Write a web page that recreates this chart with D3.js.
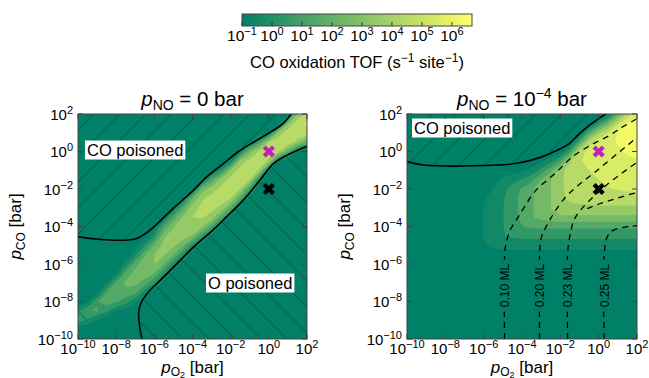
<!DOCTYPE html>
<html><head><meta charset="utf-8">
<script src="https://cdn.jsdelivr.net/npm/d3@7"></script>
<style>
body{margin:0;background:#fff}
svg{display:block}
text{font-family:"Liberation Sans",Arial,Helvetica,sans-serif;fill:#000}
</style></head>
<body><svg id="c" width="649" height="378"></svg>
<script>
// ---------- data (log10 values) ----------
const axisTicks = [-10,-8,-6,-4,-2,0,2];          // log10 p [bar]
const cbTicks = [-1,0,1,2,3,4,5,6];               // log10 TOF
const tofLevels = [-1,0,1,2,3,4,5,6];             // filled-contour levels
const tofMin = -1, tofMax = 6.67;
const BG = -2;                                    // value outside active region
// grid: rows log pCO = 2 .. -10 (step 0.5), cols log pO2 = -10 .. 2 (step 0.5)
// each row: [first column, values...]; other columns = BG
const tofLeftRows = [
 [22,-1.4,2.9,4.4],
 [21,-1.4,2.8,4.8,5.1],
 [19,-1.6,-1.1,3.2,4.8,4.9,4.7],
 [17,-1.7,-1.2,1.0,4.0,4.8,4.7,3.6,1.7],
 [16,-1.7,-0.6,2.5,4.2,4.7,4.2,1.8,-1.1,-1.5],
 [15,-1.6,-0.8,3.3,4.4,4.6,3.8,-1.1,-1.6],
 [14,-1.3,0.1,3.1,4.5,4.6,3.9,-1.1],
 [13,-1.1,1.2,3.4,4.4,4.6,4.0,-0.3],
 [12,-1.1,2.4,3.6,4.3,4.5,4.0,0.8,-1.8],
 [11,-1.1,2.0,3.9,4.3,4.4,4.0,1.4,-1.6],
 [10,-1.1,1.4,3.7,4.2,4.3,3.8,1.7,-1.4],
 [9,-1.1,1.4,3.1,4.0,4.1,3.6,1.5,-1.3],
 [8,-1.4,1.3,2.9,3.8,3.9,3.2,1.2,-1.3],
 [7,-1.4,0.1,2.8,3.6,3.5,2.9,0.5,-1.3],
 [6,-1.5,0.0,2.0,3.4,3.3,2.2,-0.1,-1.4],
 [5,-1.7,-0.3,1.9,3.0,3.1,2.1,-0.1,-1.5],
 [5,-0.5,1.6,2.7,3.0,2.0,-0.1,-1.5],
 [4,-1.1,1.4,2.4,2.6,2.0,0.0,-1.4],
 [3,-1.1,1.2,2.2,2.3,1.6,0.1,-1.4],
 [2,-1.3,1.0,1.9,1.8,1.3,-0.5,-1.4],
 [1,-1.2,0.9,1.6,1.2,0.4,-0.7,-1.6],
 [0,-0.1,0.9,1.1,0.3,-1.1,-1.3,-1.7],
 [0,0.4,-0.1,-1.1,-1.6],
 [0],
 [0]
];
const tofRightRows = [
 [21,-1.25,1.75,4.3,5.8],
 [20,0.25,2.5,4.8,6.0,6.6],
 [19,1.4,3.8,5.1,6.1,6.4,6.6],
 [17,-1.7,1.4,4.55,5.6,5.8,6.05,6.3,6.4],
 [16,-1.5,0.85,4.55,5.3,5.5,5.7,5.9,6.1,6.2],
 [14,-1.3,-0.4,1.15,3.85,4.95,5.15,5.35,5.55,5.7,5.85,5.95],
 [8,-1.5,-1.5,-1.45,-1.4,-1.2,-0.7,0.35,1.6,3.6,4.6,4.8,5.0,5.2,5.4,5.5,5.6,5.7],
 [8,-1.7,-1.3,-0.8,-0.45,0.05,0.65,2.05,3.0,3.8,4.45,4.65,4.85,5.0,5.2,5.3,5.4,5.45],
 [8,-1.4,-0.95,-0.35,0.5,1.1,1.9,2.4,3.0,3.8,4.3,4.5,4.65,4.8,4.95,5.05,5.15,5.2],
 [8,-1.15,-0.6,-0.1,0.6,1.3,1.9,2.4,3.0,3.8,4.15,4.3,4.45,4.6,4.6,4.6,4.6,4.6],
 [8,-0.97,-0.45,-0.05,0.6,1.3,1.9,2.4,3.0,3.8,3.8,3.8,3.8,3.8,3.8,3.8,3.8,3.8],
 [8,-0.95,-0.45,-0.05,0.6,1.3,1.9,2.3,2.6,2.8,2.8,2.8,2.8,2.8,2.8,2.8,2.8,2.8],
 [8,-0.95,-0.45,-0.05,0.6,0.95,1.2,1.2,1.2,1.2,1.2,1.2,1.2,1.2,1.2,1.2,1.2,1.2],
 [8,-0.95,-0.45,-0.05,0.15,0.3,0.3,0.3,0.3,0.3,0.3,0.3,0.3,0.3,0.3,0.3,0.3,0.3],
 [8,-1.08,-0.82,-0.63,-0.6,-0.6,-0.6,-0.6,-0.6,-0.6,-0.6,-0.6,-0.6,-0.6,-0.6,-0.6,-0.6,-0.6],
 [8,-1.4,-1.4,-1.4,-1.4,-1.4,-1.4,-1.4,-1.4,-1.4,-1.4,-1.4,-1.4,-1.4,-1.4,-1.4,-1.4,-1.4],
 [0],[0],[0],[0],[0],[0],[0],[0],[0]
];
// poisoning boundaries [log pO2, log pCO]
const leftCOLine = [[-10,-4.54],[-8.95,-4.68],[-7.38,-4.72],[-6.95,-4.65],[-6.51,-4.41],[-5.98,-3.98],[-4.94,-2.97],[-3.98,-2.1],[-3.28,-1.38],[-2.41,-0.67],[-1.53,0.04],[-0.66,0.58],[0.21,1.11],[0.73,1.47],[1.17,2.0]];
const leftOLine = [[2.04,0.31],[0.73,-0.31],[0.21,-0.67],[-0.49,-1.56],[-1.36,-2.62],[-2.24,-3.51],[-2.76,-4.03],[-3.98,-5.13],[-4.76,-5.93],[-5.64,-6.82],[-6.34,-7.53],[-6.69,-8.06],[-6.82,-8.6],[-6.77,-9.31],[-6.65,-10]];
const rightCOLine = [[-10,-0.54],[-9.13,-0.72],[-5.3,-0.72],[-4.26,-0.63],[-3.0,-0.3],[-2.2,0.05],[-1.5,0.45],[-1.03,0.93],[-0.51,1.38],[0.1,1.82],[0.36,2.0]];
// coverage contours (right panel)
const covLevels = ["0.10 ML","0.20 ML","0.23 ML","0.25 ML"];
const covLines = [
 [[-4.91,-10],[-4.91,-5.6],[-4.85,-5.0],[-4.62,-4.2],[-4.2,-3.5],[-3.9,-3.0],[-3.3,-2.1],[-2.2,-1.1],[-1.35,-0.27],[-0.4,0.35],[0.54,0.84],[1.23,1.3],[2,1.75]],
 [[-3.08,-10],[-3.08,-5.5],[-3.01,-4.65],[-2.7,-3.93],[-1.73,-2.44],[0.01,-0.93],[2,0.75]],
 [[-1.62,-10],[-1.62,-5.5],[-1.5,-4.5],[-1.2,-3.49],[0.28,-1.9],[2,-0.58]],
 [[0.29,-10],[0.29,-5.4],[0.45,-4.54],[0.78,-4.19],[2,-3.95]]
];
const covExtra = [[-0.6,-3.05],[0.01,-2.8],[2,-2.18]];
const covLabelY = -7.15;
const markers = [{x:0,y:0,c:"#c020c0"},{x:0,y:-2,c:"#000"}];

// ---------- drawing ----------
const svg = d3.select("#c");
const summer = t => d3.rgb(255*t, 255*(0.5+0.5*t), 102);
const cnorm = v => (v - tofMin)/(tofMax - tofMin);
function bandColor(k){
  const lo = tofLevels[k], hi = k+1 < tofLevels.length ? tofLevels[k+1] : tofMax;
  return summer(cnorm((lo+hi)/2));
}
function buildGrid(rows){
  const g = [];
  rows.forEach(r => { const s = r[0];
    for (let i=0;i<25;i++) g.push(i>=s && i-s+1<r.length ? r[i-s+1] : BG); });
  return g;
}
const defs = svg.append("defs");
function hatch(id, dir){
  const h = 26;
  const p = defs.append("pattern").attr("id",id).attr("patternUnits","userSpaceOnUse")
    .attr("width",h).attr("height",h);
  const d = dir>0 ? `M0,${h}L${h},0M${-h/2},${h/2}L${h/2},${-h/2}M${h/2},${h*1.5}L${h*1.5},${h/2}`
                  : `M0,0L${h},${h}M${-h/2},${h/2}L${h/2},${h*1.5}M${h/2},${-h/2}L${h*1.5},${h/2}`;
  p.append("path").attr("d",d).attr("stroke","#000").attr("stroke-opacity",0.4).attr("stroke-width",0.7);
}
hatch("hf",1); hatch("hb",-1);

function supText(sel, base, exp, supSize, dy){
  sel.append("tspan").text(base);
  sel.append("tspan").attr("font-size",supSize).attr("dy",dy).text(exp<0?"\u2212"+(-exp):String(exp));
}

function panel(o){
  const x = d3.scaleLinear().domain([-10,2]).range([o.x0,o.x1]);
  const y = d3.scaleLinear().domain([-10,2]).range([o.y1,o.y0]);
  const g = svg.append("g");
  const cid = "clip"+o.id;
  defs.append("clipPath").attr("id",cid).append("rect")
    .attr("x",o.x0).attr("y",o.y0).attr("width",o.x1-o.x0).attr("height",o.y1-o.y0);
  const pg = g.append("g").attr("clip-path",`url(#${cid})`);
  pg.append("rect").attr("x",o.x0).attr("y",o.y0).attr("width",o.x1-o.x0).attr("height",o.y1-o.y0)
    .attr("fill",summer(0));
  const grid = buildGrid(o.rows);
  const cs = d3.contours().size([25,25]).thresholds(tofLevels)(grid);
  const proj = d3.geoTransform({point:function(gx,gy){
    this.stream.point(x(-10+(gx-0.5)*0.5), y(2-(gy-0.5)*0.5)); }});
  const gp = d3.geoPath(proj);
  cs.forEach((c,k)=>{ pg.append("path").attr("d",gp(c)).attr("fill",bandColor(k)); });
  const line = d3.line().x(d=>x(d[0])).y(d=>y(d[1])).curve(d3.curveCatmullRom.alpha(0.5));
  o.hatches.forEach(hh=>{
    pg.append("path").attr("d",line(hh.pts)).attr("fill",`url(#${hh.pat})`).attr("stroke","none");
  });
  if (o.cov){
    covLines.forEach(l=>pg.append("path").attr("d",line(l)).attr("fill","none")
      .attr("stroke","#000").attr("stroke-width",1.3).attr("stroke-dasharray","6,5"));
    pg.append("path").attr("d",line(covExtra)).attr("fill","none")
      .attr("stroke","#000").attr("stroke-width",1.3).attr("stroke-dasharray","6,5");
    covLines.forEach((l,i)=>{
      const cx = x(l[0][0]), cy = y(covLabelY);
      pg.append("rect").attr("x",cx-6).attr("y",cy-26).attr("width",12).attr("height",52).attr("fill",summer(0));
      pg.append("text").attr("transform",`translate(${cx+4.3},${cy}) rotate(-90)`)
        .attr("text-anchor","middle").attr("font-size",12).text(covLevels[i]);
    });
  }
  o.lines.forEach(l=>pg.append("path").attr("d",line(l)).attr("fill","none")
    .attr("stroke","#000").attr("stroke-width",1.6));
  markers.forEach(m=>{
    const mx=x(m.x), my=y(m.y), r=4.6;
    pg.append("path").attr("d",`M${mx-r},${my-r}L${mx+r},${my+r}M${mx-r},${my+r}L${mx+r},${my-r}`)
      .attr("stroke",m.c).attr("stroke-width",4.2);
  });
  o.boxes.forEach(b=>{
    const r = g.append("rect").attr("fill","#fff");
    const t = g.append("text").attr("x",b.x).attr("y",b.y).attr("font-size",16.5).text(b.t);
    const bb = t.node().getBBox();
    r.attr("x",bb.x-2).attr("y",bb.y-0.5).attr("width",bb.width+4).attr("height",bb.height+1);
  });
  g.append("rect").attr("x",o.x0).attr("y",o.y0).attr("width",o.x1-o.x0).attr("height",o.y1-o.y0)
    .attr("fill","none").attr("stroke","#444").attr("stroke-width",1);
  const tk = g.append("g").attr("stroke","#444").attr("stroke-width",1);
  axisTicks.forEach(v=>{
    tk.append("line").attr("x1",x(v)).attr("x2",x(v)).attr("y1",o.y1).attr("y2",o.y1-5);
    tk.append("line").attr("x1",x(v)).attr("x2",x(v)).attr("y1",o.y0).attr("y2",o.y0+5);
    tk.append("line").attr("y1",y(v)).attr("y2",y(v)).attr("x1",o.x0).attr("x2",o.x0+5);
    tk.append("line").attr("y1",y(v)).attr("y2",y(v)).attr("x1",o.x1).attr("x2",o.x1-5);
    const tx = g.append("text").attr("x",x(v)).attr("y",o.y1+15).attr("text-anchor","middle").attr("font-size",15);
    supText(tx,"10",v,11,-6);
    const ty = g.append("text").attr("x",o.x0-5).attr("y",y(v)+5.5).attr("text-anchor","end").attr("font-size",15);
    supText(ty,"10",v,11,-6);
  });
  const tt = g.append("text").attr("x",(o.x0+o.x1)/2).attr("y",106).attr("text-anchor","middle").attr("font-size",20.5);
  tt.append("tspan").attr("font-style","italic").text("p");
  tt.append("tspan").attr("font-size",14).attr("dy",4).text("NO");
  if (o.id==="L"){ tt.append("tspan").attr("dy",-4).text(" = 0 bar"); }
  else { tt.append("tspan").attr("dy",-4).text(" = 10");
         tt.append("tspan").attr("font-size",14).attr("dy",-8).text("\u22124");
         tt.append("tspan").attr("dy",8).text(" bar"); }
  const xl = g.append("text").attr("x",(o.x0+o.x1)/2).attr("y",373).attr("text-anchor","middle").attr("font-size",17);
  xl.append("tspan").attr("font-style","italic").text("p");
  xl.append("tspan").attr("font-size",12).attr("dy",3).text("O");
  xl.append("tspan").attr("font-size",9).attr("dy",2).text("2");
  xl.append("tspan").attr("dy",-5).text(" [bar]");
  const yl = g.append("text").attr("transform",`translate(${o.x0-57},${(o.y0+o.y1)/2}) rotate(-90)`)
    .attr("text-anchor","middle").attr("font-size",17);
  yl.append("tspan").attr("font-style","italic").text("p");
  yl.append("tspan").attr("font-size",12).attr("dy",4).text("CO");
  yl.append("tspan").attr("dy",-4).text(" [bar]");
}

panel({id:"L",x0:78,x1:307,y0:114,y1:339,rows:tofLeftRows,
  lines:[leftCOLine,leftOLine],
  hatches:[{pat:"hf",pts:[[-10,2],...leftCOLine,[1.17,2.2],[-10,2.2]]},
           {pat:"hb",pts:[...leftOLine,[2.2,-10.2],[2.2,0.31]]}],
  boxes:[{t:"CO poisoned",x:87,y:156},{t:"O poisoned",x:208,y:289}]});
panel({id:"R",x0:407,x1:637,y0:114,y1:339,rows:tofRightRows,cov:true,
  lines:[rightCOLine],
  hatches:[{pat:"hf",pts:[[-10,2.2],...rightCOLine,[0.36,2.2]]}],
  boxes:[{t:"CO poisoned",x:414,y:134}]});

// ---------- colour bar ----------
const cb = svg.append("g");
const cbx = d3.scaleLinear().domain([tofMin,tofMax]).range([242,472]);
const grad = defs.append("linearGradient").attr("id","cbg");
d3.range(0,1.0001,0.05).forEach(t=>grad.append("stop").attr("offset",t).attr("stop-color",summer(t)));
cb.append("rect").attr("x",242).attr("y",14).attr("width",230).attr("height",12).attr("fill","url(#cbg)")
  .attr("stroke","#444").attr("stroke-width",1);
cbTicks.forEach(v=>{
  cb.append("line").attr("x1",cbx(v)).attr("x2",cbx(v)).attr("y1",26).attr("y2",22).attr("stroke","#333");
  const t = cb.append("text").attr("x",cbx(v)).attr("y",41).attr("text-anchor","middle").attr("font-size",15.5);
  supText(t,"10",v,11,-6);
});
const cl = cb.append("text").attr("x",357).attr("y",68).attr("text-anchor","middle").attr("font-size",16.5);
cl.append("tspan").text("CO oxidation TOF (s");
cl.append("tspan").attr("font-size",12).attr("dy",-6).text("\u22121");
cl.append("tspan").attr("dy",6).text(" site");
cl.append("tspan").attr("font-size",12).attr("dy",-6).text("\u22121");
cl.append("tspan").attr("dy",6).text(")");
</script></body></html>
